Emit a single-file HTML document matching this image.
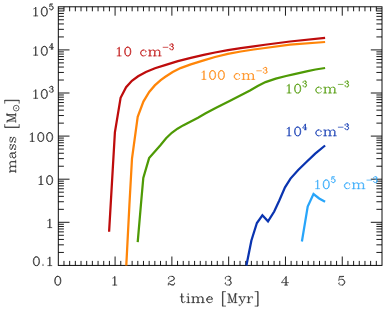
<!DOCTYPE html>
<html><head><meta charset="utf-8"><style>
html,body{margin:0;padding:0;background:#fff;font-family:"Liberation Sans",sans-serif;}
svg{display:block;}
</style></head><body>
<svg width="388" height="311" viewBox="0 0 388 311">
<rect width="388" height="311" fill="#fff"/>
<rect x="58.3" y="6.8" width="323.7" height="258.59999999999997" fill="none" stroke="#000" stroke-width="0.95"/>
<path d="M63.98 265.4v-4.5M63.98 6.8v4.5M69.66 265.4v-4.5M69.66 6.8v4.5M75.34 265.4v-4.5M75.34 6.8v4.5M81.02 265.4v-4.5M81.02 6.8v4.5M86.69 265.4v-4.5M86.69 6.8v4.5M92.37 265.4v-4.5M92.37 6.8v4.5M98.05 265.4v-4.5M98.05 6.8v4.5M103.73 265.4v-4.5M103.73 6.8v4.5M109.41 265.4v-4.5M109.41 6.8v4.5M115.09 265.4v-8.9M115.09 6.8v8.9M120.77 265.4v-4.5M120.77 6.8v4.5M126.45 265.4v-4.5M126.45 6.8v4.5M132.13 265.4v-4.5M132.13 6.8v4.5M137.81 265.4v-4.5M137.81 6.8v4.5M143.48 265.4v-4.5M143.48 6.8v4.5M149.16 265.4v-4.5M149.16 6.8v4.5M154.84 265.4v-4.5M154.84 6.8v4.5M160.52 265.4v-4.5M160.52 6.8v4.5M166.2 265.4v-4.5M166.2 6.8v4.5M171.88 265.4v-8.9M171.88 6.8v8.9M177.56 265.4v-4.5M177.56 6.8v4.5M183.24 265.4v-4.5M183.24 6.8v4.5M188.92 265.4v-4.5M188.92 6.8v4.5M194.59 265.4v-4.5M194.59 6.8v4.5M200.27 265.4v-4.5M200.27 6.8v4.5M205.95 265.4v-4.5M205.95 6.8v4.5M211.63 265.4v-4.5M211.63 6.8v4.5M217.31 265.4v-4.5M217.31 6.8v4.5M222.99 265.4v-4.5M222.99 6.8v4.5M228.67 265.4v-8.9M228.67 6.8v8.9M234.35 265.4v-4.5M234.35 6.8v4.5M240.03 265.4v-4.5M240.03 6.8v4.5M245.71 265.4v-4.5M245.71 6.8v4.5M251.38 265.4v-4.5M251.38 6.8v4.5M257.06 265.4v-4.5M257.06 6.8v4.5M262.74 265.4v-4.5M262.74 6.8v4.5M268.42 265.4v-4.5M268.42 6.8v4.5M274.1 265.4v-4.5M274.1 6.8v4.5M279.78 265.4v-4.5M279.78 6.8v4.5M285.46 265.4v-8.9M285.46 6.8v8.9M291.14 265.4v-4.5M291.14 6.8v4.5M296.82 265.4v-4.5M296.82 6.8v4.5M302.49 265.4v-4.5M302.49 6.8v4.5M308.17 265.4v-4.5M308.17 6.8v4.5M313.85 265.4v-4.5M313.85 6.8v4.5M319.53 265.4v-4.5M319.53 6.8v4.5M325.21 265.4v-4.5M325.21 6.8v4.5M330.89 265.4v-4.5M330.89 6.8v4.5M336.57 265.4v-4.5M336.57 6.8v4.5M342.25 265.4v-8.9M342.25 6.8v8.9M347.93 265.4v-4.5M347.93 6.8v4.5M353.61 265.4v-4.5M353.61 6.8v4.5M359.28 265.4v-4.5M359.28 6.8v4.5M364.96 265.4v-4.5M364.96 6.8v4.5M370.64 265.4v-4.5M370.64 6.8v4.5M376.32 265.4v-4.5M376.32 6.8v4.5M58.3 252.43h5.6M382.0 252.43h-5.6M58.3 244.84h5.6M382.0 244.84h-5.6M58.3 239.45h5.6M382.0 239.45h-5.6M58.3 235.27h5.6M382.0 235.27h-5.6M58.3 231.86h5.6M382.0 231.86h-5.6M58.3 228.98h5.6M382.0 228.98h-5.6M58.3 226.48h5.6M382.0 226.48h-5.6M58.3 224.27h5.6M382.0 224.27h-5.6M58.3 222.3h11.2M382.0 222.3h-11.2M58.3 209.33h5.6M382.0 209.33h-5.6M58.3 201.74h5.6M382.0 201.74h-5.6M58.3 196.35h5.6M382.0 196.35h-5.6M58.3 192.17h5.6M382.0 192.17h-5.6M58.3 188.76h5.6M382.0 188.76h-5.6M58.3 185.88h5.6M382.0 185.88h-5.6M58.3 183.38h5.6M382.0 183.38h-5.6M58.3 181.17h5.6M382.0 181.17h-5.6M58.3 179.2h11.2M382.0 179.2h-11.2M58.3 166.23h5.6M382.0 166.23h-5.6M58.3 158.64h5.6M382.0 158.64h-5.6M58.3 153.25h5.6M382.0 153.25h-5.6M58.3 149.07h5.6M382.0 149.07h-5.6M58.3 145.66h5.6M382.0 145.66h-5.6M58.3 142.78h5.6M382.0 142.78h-5.6M58.3 140.28h5.6M382.0 140.28h-5.6M58.3 138.07h5.6M382.0 138.07h-5.6M58.3 136.1h11.2M382.0 136.1h-11.2M58.3 123.13h5.6M382.0 123.13h-5.6M58.3 115.54h5.6M382.0 115.54h-5.6M58.3 110.15h5.6M382.0 110.15h-5.6M58.3 105.97h5.6M382.0 105.97h-5.6M58.3 102.56h5.6M382.0 102.56h-5.6M58.3 99.68h5.6M382.0 99.68h-5.6M58.3 97.18h5.6M382.0 97.18h-5.6M58.3 94.97h5.6M382.0 94.97h-5.6M58.3 93h11.2M382.0 93h-11.2M58.3 80.03h5.6M382.0 80.03h-5.6M58.3 72.44h5.6M382.0 72.44h-5.6M58.3 67.05h5.6M382.0 67.05h-5.6M58.3 62.87h5.6M382.0 62.87h-5.6M58.3 59.46h5.6M382.0 59.46h-5.6M58.3 56.58h5.6M382.0 56.58h-5.6M58.3 54.08h5.6M382.0 54.08h-5.6M58.3 51.87h5.6M382.0 51.87h-5.6M58.3 49.9h11.2M382.0 49.9h-11.2M58.3 36.93h5.6M382.0 36.93h-5.6M58.3 29.34h5.6M382.0 29.34h-5.6M58.3 23.95h5.6M382.0 23.95h-5.6M58.3 19.77h5.6M382.0 19.77h-5.6M58.3 16.36h5.6M382.0 16.36h-5.6M58.3 13.48h5.6M382.0 13.48h-5.6M58.3 10.98h5.6M382.0 10.98h-5.6M58.3 8.77h5.6M382.0 8.77h-5.6" fill="none" stroke="#000" stroke-width="0.9"/>
<path d="M109.1 231.7 L114.9 132.4 L120.6 97.8 L126.1 87.2 L131.9 80.8 L138.1 76.3 L145.9 72 L155 68.2 L165 65.1 L177.9 61.2 L190.8 57.8 L203.7 54.9 L215 52.5 L227.9 50.2 L240.8 48.2 L253.7 46.35 L265 44.75 L290 41.5 L325.1 37.8" fill="none" stroke="#be0c0c" stroke-width="2.25" stroke-linejoin="miter" stroke-linecap="butt"/>
<path d="M126.3 265.5 L129.4 205 L132.0 158.5 L137.7 116.8 L143.4 101.6 L149.2 91.9 L154.8 85.4 L160.7 80.2 L165 77.0 L172.7 72.1 L180.5 68.1 L190.8 64.4 L203.7 60.4 L215 57.0 L227.9 53.8 L240.8 51.5 L253.7 49.5 L265 48.0 L290 44.7 L325.1 42.0" fill="none" stroke="#ff8508" stroke-width="2.25" stroke-linejoin="miter" stroke-linecap="butt"/>
<path d="M137.7 242.1 L140.9 205 L143.3 177.9 L149.1 158.1 L160.4 145.2 L166.1 138.3 L171.8 132.8 L177.5 128.7 L183.1 125.4 L190.3 121.7 L198 117.8 L205.7 113.3 L216.6 107.4 L230.1 100.7 L243.7 93.7 L250 90.5 L257.7 86.0 L265.5 82.1 L275.8 78.65 L286.1 76.0 L293.3 74.4 L300 72.9 L307.7 71.1 L315.5 69.5 L325.1 68.0" fill="none" stroke="#4e9a05" stroke-width="2.25" stroke-linejoin="miter" stroke-linecap="butt"/>
<path d="M246.4 265.5 L251.4 240.5 L256.9 223 L262.4 215.3 L268.0 221.3 L274.2 211.5 L279.3 200.5 L285.0 187.4 L290.5 178.6 L298.2 170.0 L305.9 162.5 L315.2 153.7 L325.1 145.5" fill="none" stroke="#0a34b0" stroke-width="2.25" stroke-linejoin="miter" stroke-linecap="butt"/>
<path d="M301.9 241.5 L307.7 206.6 L313.5 194 L319.2 198.5 L325.1 201.8" fill="none" stroke="#28a5fa" stroke-width="2.25" stroke-linejoin="miter" stroke-linecap="butt"/>
<path d="M35.52 7.6L35.96 7.19L35.96 15.9L35.52 15.9L35.52 7.6L34.64 8.43L33.76 8.85M35.52 15.9L33.76 15.9M35.96 15.9L37.72 15.9M43.88 7.19L44.76 7.19L45.64 7.6L46.08 8.02L46.52 8.85L46.96 10.92L46.96 12.17L46.52 14.24L46.08 15.07L45.64 15.49L44.76 15.9L46.08 15.49L46.96 14.24L47.4 12.17L47.4 10.92L46.96 8.85L46.08 7.6L44.76 7.19M43.88 7.19L42.56 7.6L41.68 8.85L41.24 10.92L41.24 12.17L41.68 14.24L42.56 15.49L43.88 15.9L43 15.49L42.56 15.07L42.12 14.24L41.68 12.17L41.68 10.92L42.12 8.85L42.56 8.02L43 7.6L43.88 7.19M43.88 15.9L44.76 15.9M50.04 4.26L51.36 4.26L52.68 3.99L50.04 3.99L49.51 6.76L50.04 6.2L50.83 5.92L51.62 5.92L52.15 6.2L52.68 6.76L52.94 7.59L52.94 8.14L52.68 8.97L52.15 9.52L51.62 9.8L52.42 9.52L52.94 8.97L53.21 8.14L53.21 7.59L52.94 6.76L52.42 6.2L51.62 5.92M49.78 8.69L50.04 8.42L49.78 8.14L49.51 8.42L49.51 8.69L49.78 9.25L50.04 9.52L50.83 9.8L51.62 9.8" fill="none" stroke="#222" stroke-width="0.7" stroke-linecap="round" stroke-linejoin="round"/>
<path d="M35.52 46.9L35.96 46.48L35.96 55.2L35.52 55.2L35.52 46.9L34.64 47.73L33.76 48.15M35.52 55.2L33.76 55.2M35.96 55.2L37.72 55.2M43.88 46.48L44.76 46.48L45.64 46.9L46.08 47.32L46.52 48.15L46.96 50.22L46.96 51.47L46.52 53.54L46.08 54.37L45.64 54.79L44.76 55.2L46.08 54.79L46.96 53.54L47.4 51.47L47.4 50.22L46.96 48.15L46.08 46.9L44.76 46.48M43.88 46.48L42.56 46.9L41.68 48.15L41.24 50.22L41.24 51.47L41.68 53.54L42.56 54.79L43.88 55.2L43 54.79L42.56 54.37L42.12 53.54L41.68 51.47L41.68 50.22L42.12 48.15L42.56 47.32L43 46.9L43.88 46.48M43.88 55.2L44.76 55.2M51.89 43.84L51.89 47.44L49.25 47.44L52.15 43.29L52.15 47.44L51.89 47.44L51.89 49.1L51.1 49.1M53.47 47.44L52.15 47.44L52.15 49.1L51.89 49.1M52.15 49.1L52.94 49.1" fill="none" stroke="#222" stroke-width="0.7" stroke-linecap="round" stroke-linejoin="round"/>
<path d="M35.52 90L35.96 89.58L35.96 98.3L35.52 98.3L35.52 90L34.64 90.83L33.76 91.25M35.52 98.3L33.76 98.3M35.96 98.3L37.72 98.3M43.88 89.58L44.76 89.58L45.64 90L46.08 90.41L46.52 91.25L46.96 93.32L46.96 94.56L46.52 96.64L46.08 97.47L45.64 97.88L44.76 98.3L46.08 97.88L46.96 96.64L47.4 94.56L47.4 93.32L46.96 91.25L46.08 90L44.76 89.58M43.88 89.58L42.56 90L41.68 91.25L41.24 93.32L41.24 94.56L41.68 96.64L42.56 97.88L43.88 98.3L43 97.88L42.56 97.47L42.12 96.64L41.68 94.56L41.68 93.32L42.12 91.25L42.56 90.41L43 90L43.88 89.58M43.88 98.3L44.76 98.3M51.89 86.39L50.83 86.39L50.04 86.66L49.78 86.94L49.51 87.49L49.51 87.77L49.78 88.05L50.04 87.77L49.78 87.49M51.89 86.39L52.42 86.66L52.68 87.22L52.68 88.05L52.42 88.6L51.89 88.88L52.68 88.6L52.94 88.05L52.94 87.22L52.68 86.66L51.89 86.39M51.1 88.88L51.89 88.88L52.42 89.16L52.94 89.71L53.21 90.26L53.21 91.09L52.94 91.65L52.68 91.92L51.89 92.2L52.42 91.92L52.68 91.65L52.94 91.09L52.94 90.26L52.68 89.43M49.78 91.09L50.04 90.82L49.78 90.54L49.51 90.82L49.51 91.09L49.78 91.65L50.04 91.92L50.83 92.2L51.89 92.2" fill="none" stroke="#222" stroke-width="0.7" stroke-linecap="round" stroke-linejoin="round"/>
<path d="M32 133.1L32.44 132.69L32.44 141.4L32 141.4L32 133.1L31.12 133.93L30.24 134.34M32 141.4L30.24 141.4M32.44 141.4L34.2 141.4M40.36 132.69L41.24 132.69L42.12 133.1L42.56 133.52L43 134.34L43.44 136.42L43.44 137.66L43 139.74L42.56 140.57L42.12 140.99L41.24 141.4L42.56 140.99L43.44 139.74L43.88 137.66L43.88 136.42L43.44 134.34L42.56 133.1L41.24 132.69M40.36 132.69L39.04 133.1L38.16 134.34L37.72 136.42L37.72 137.66L38.16 139.74L39.04 140.99L40.36 141.4L39.48 140.99L39.04 140.57L38.6 139.74L38.16 137.66L38.16 136.42L38.6 134.34L39.04 133.52L39.48 133.1L40.36 132.69M40.36 141.4L41.24 141.4M49.16 132.69L50.04 132.69L50.92 133.1L51.36 133.52L51.8 134.34L52.24 136.42L52.24 137.66L51.8 139.74L51.36 140.57L50.92 140.99L50.04 141.4L51.36 140.99L52.24 139.74L52.68 137.66L52.68 136.42L52.24 134.34L51.36 133.1L50.04 132.69M49.16 132.69L47.84 133.1L46.96 134.34L46.52 136.42L46.52 137.66L46.96 139.74L47.84 140.99L49.16 141.4L48.28 140.99L47.84 140.57L47.4 139.74L46.96 137.66L46.96 136.42L47.4 134.34L47.84 133.52L48.28 133.1L49.16 132.69M49.16 141.4L50.04 141.4" fill="none" stroke="#222" stroke-width="0.7" stroke-linecap="round" stroke-linejoin="round"/>
<path d="M40.8 176.2L41.24 175.78L41.24 184.5L40.8 184.5L40.8 176.2L39.92 177.03L39.04 177.44M40.8 184.5L39.04 184.5M41.24 184.5L43 184.5M49.16 175.78L50.04 175.78L50.92 176.2L51.36 176.62L51.8 177.44L52.24 179.52L52.24 180.76L51.8 182.84L51.36 183.67L50.92 184.09L50.04 184.5L51.36 184.09L52.24 182.84L52.68 180.76L52.68 179.52L52.24 177.44L51.36 176.2L50.04 175.78M49.16 175.78L47.84 176.2L46.96 177.44L46.52 179.52L46.52 180.76L46.96 182.84L47.84 184.09L49.16 184.5L48.28 184.09L47.84 183.67L47.4 182.84L46.96 180.76L46.96 179.52L47.4 177.44L47.84 176.62L48.28 176.2L49.16 175.78M49.16 184.5L50.04 184.5" fill="none" stroke="#222" stroke-width="0.7" stroke-linecap="round" stroke-linejoin="round"/>
<path d="M49.6 219.3L50.04 218.88L50.04 227.6L49.6 227.6L49.6 219.3L48.72 220.13L47.84 220.54M49.6 227.6L47.84 227.6M50.04 227.6L51.8 227.6" fill="none" stroke="#222" stroke-width="0.7" stroke-linecap="round" stroke-linejoin="round"/>
<path d="M35.96 256.89L36.84 256.89L37.72 257.3L38.16 257.72L38.6 258.55L39.04 260.62L39.04 261.87L38.6 263.94L38.16 264.77L37.72 265.19L36.84 265.6L38.16 265.19L39.04 263.94L39.48 261.87L39.48 260.62L39.04 258.55L38.16 257.3L36.84 256.89M35.96 256.89L34.64 257.3L33.76 258.55L33.32 260.62L33.32 261.87L33.76 263.94L34.64 265.19L35.96 265.6L35.08 265.19L34.64 264.77L34.2 263.94L33.76 261.87L33.76 260.62L34.2 258.55L34.64 257.72L35.08 257.3L35.96 256.89M35.96 265.6L36.84 265.6M43 264.77L42.56 265.19L43 265.6L43.44 265.19L43 264.77M49.6 257.3L50.04 256.89L50.04 265.6L49.6 265.6L49.6 257.3L48.72 258.13L47.84 258.55M49.6 265.6L47.84 265.6M50.04 265.6L51.8 265.6" fill="none" stroke="#222" stroke-width="0.7" stroke-linecap="round" stroke-linejoin="round"/>
<path d="M57.36 276.39L58.24 276.39L59.12 276.8L59.56 277.22L60 278.05L60.44 280.12L60.44 281.37L60 283.44L59.56 284.27L59.12 284.69L58.24 285.1L59.56 284.69L60.44 283.44L60.88 281.37L60.88 280.12L60.44 278.05L59.56 276.8L58.24 276.39M57.36 276.39L56.04 276.8L55.16 278.05L54.72 280.12L54.72 281.37L55.16 283.44L56.04 284.69L57.36 285.1L56.48 284.69L56.04 284.27L55.6 283.44L55.16 281.37L55.16 280.12L55.6 278.05L56.04 277.22L56.48 276.8L57.36 276.39M57.36 285.1L58.24 285.1" fill="none" stroke="#222" stroke-width="0.7" stroke-linecap="round" stroke-linejoin="round"/>
<path d="M114.59 276.8L115.03 276.39L115.03 285.1L114.59 285.1L114.59 276.8L113.71 277.63L112.83 278.05M114.59 285.1L112.83 285.1M115.03 285.1L116.79 285.1" fill="none" stroke="#222" stroke-width="0.7" stroke-linecap="round" stroke-linejoin="round"/>
<path d="M172.26 276.39L170.5 276.39L169.18 276.8L168.74 277.22L168.3 278.05L168.3 278.46L168.74 278.88L169.18 278.46L168.74 278.05M172.26 276.39L173.14 276.8L173.58 277.22L174.02 278.05L174.02 278.88L173.58 279.71L172.26 280.54L170.5 281.37L172.7 280.54L174.02 279.71L174.46 278.88L174.46 278.05L174.02 277.22L173.58 276.8L172.26 276.39M170.5 281.37L169.62 281.78L168.74 282.61L168.3 283.86L168.3 284.27L168.74 283.86L169.62 283.86L171.82 284.69L173.14 284.69L174.02 284.27L174.46 283.86L174.46 283.03M174.46 283.86L174.02 284.69L173.58 285.1L171.82 285.1L169.62 283.86M168.3 284.27L168.3 285.1" fill="none" stroke="#222" stroke-width="0.7" stroke-linecap="round" stroke-linejoin="round"/>
<path d="M229.05 276.39L227.29 276.39L225.97 276.8L225.53 277.22L225.09 278.05L225.09 278.46L225.53 278.88L225.97 278.46L225.53 278.05M229.05 276.39L229.93 276.8L230.37 277.63L230.37 278.88L229.93 279.71L229.05 280.12L230.37 279.71L230.81 278.88L230.81 277.63L230.37 276.8L229.05 276.39M227.73 280.12L229.05 280.12L229.93 280.54L230.81 281.37L231.25 282.2L231.25 283.44L230.81 284.27L230.37 284.69L229.05 285.1L229.93 284.69L230.37 284.27L230.81 283.44L230.81 282.2L230.37 280.95M225.53 283.44L225.97 283.03L225.53 282.61L225.09 283.03L225.09 283.44L225.53 284.27L225.97 284.69L227.29 285.1L229.05 285.1" fill="none" stroke="#222" stroke-width="0.7" stroke-linecap="round" stroke-linejoin="round"/>
<path d="M285.84 277.22L285.84 282.61L281.44 282.61L286.28 276.39L286.28 282.61L285.84 282.61L285.84 285.1L284.52 285.1M288.48 282.61L286.28 282.61L286.28 285.1L285.84 285.1M286.28 285.1L287.6 285.1" fill="none" stroke="#222" stroke-width="0.7" stroke-linecap="round" stroke-linejoin="round"/>
<path d="M339.55 276.8L341.75 276.8L343.95 276.39L339.55 276.39L338.67 280.54L339.55 279.71L340.87 279.29L342.19 279.29L343.07 279.71L343.95 280.54L344.39 281.78L344.39 282.61L343.95 283.86L343.07 284.69L342.19 285.1L343.51 284.69L344.39 283.86L344.83 282.61L344.83 281.78L344.39 280.54L343.51 279.71L342.19 279.29M339.11 283.44L339.55 283.03L339.11 282.61L338.67 283.03L338.67 283.44L339.11 284.27L339.55 284.69L340.87 285.1L342.19 285.1" fill="none" stroke="#222" stroke-width="0.7" stroke-linecap="round" stroke-linejoin="round"/>
<path d="M181.54 293.89L181.54 296.79L180.22 296.79M181.98 293.89L181.98 296.79L181.54 296.79L181.54 300.94L181.98 302.19L182.86 302.6L182.42 302.19L181.98 300.94L181.98 296.79L183.74 296.79M185.06 301.36L184.62 302.19L183.74 302.6L182.86 302.6M186.82 296.79L188.58 296.79L188.58 302.6L188.14 302.6L188.14 296.79M188.14 302.6L186.82 302.6M188.58 302.6L189.9 302.6M188.14 293.89L187.7 294.3L188.14 294.72L188.58 294.3L188.14 293.89M191.66 296.79L193.42 296.79L193.42 298.04L194.3 297.21L195.62 296.79L196.5 296.79L197.38 297.21L197.82 298.04L197.82 302.6L196.5 302.6M192.98 296.79L192.98 302.6L191.66 302.6M196.5 296.79L197.82 297.21L198.26 298.04L199.14 297.21L200.46 296.79L201.34 296.79L202.22 297.21L202.66 298.04L202.66 302.6L201.34 302.6M201.34 296.79L202.66 297.21L203.1 298.04L203.1 302.6L202.66 302.6M198.26 298.04L198.26 302.6L197.82 302.6M193.42 298.04L193.42 302.6L192.98 302.6M193.42 302.6L194.74 302.6M198.26 302.6L199.58 302.6M203.1 302.6L204.42 302.6M209.26 296.79L210.58 296.79L211.46 297.21L211.9 297.62L212.34 298.45L212.34 299.28L211.9 299.28L211.9 298.04L211.46 297.21M209.26 296.79L207.94 297.21L207.06 298.04L206.62 299.28L206.62 300.11L207.06 301.36L207.94 302.19L209.26 302.6L208.38 302.19L207.5 301.36L207.06 300.11L207.06 299.28L207.5 298.04L208.38 297.21L209.26 296.79M207.06 299.28L211.9 299.28M212.34 301.36L211.46 302.19L210.14 302.6L209.26 302.6M222.9 291.63L222.46 291.63L222.46 306.1L222.9 306.1L222.9 291.63L225.54 291.63M222.9 306.1L225.54 306.1M227.74 293.89L229.5 293.89L232.14 301.36M235.22 293.89L236.98 293.89M235.22 293.89L235.22 302.6L233.9 302.6M235.22 293.89L232.14 302.6L229.06 293.89L229.06 302.6L227.74 302.6M235.66 293.89L235.66 302.6L235.22 302.6M229.06 302.6L230.38 302.6M235.66 302.6L236.98 302.6M238.74 296.79L241.38 296.79M239.62 296.79L242.26 302.6L244.9 296.79L243.14 296.79M240.06 296.79L242.26 301.77M244.9 296.79L245.78 296.79M242.26 302.6L241.38 304.26L240.5 305.09L239.62 305.5L239.18 305.5L238.74 305.09L239.18 304.68L239.62 305.09M247.1 296.79L248.86 296.79L248.86 299.28L249.3 298.04L250.18 297.21L251.06 296.79L252.38 296.79L252.82 297.21L252.82 297.62L252.38 298.04L251.94 297.62L252.38 297.21M248.42 296.79L248.42 302.6L247.1 302.6M248.86 299.28L248.86 302.6L248.42 302.6M248.86 302.6L250.18 302.6M255.02 291.63L258.1 291.63L258.1 306.1L257.66 306.1L257.66 291.63M257.66 306.1L255.02 306.1" fill="none" stroke="#222" stroke-width="0.7" stroke-linecap="round" stroke-linejoin="round"/>
<g transform="translate(15.7,173.5) rotate(-90)"><path d="M0.86 -5.81L2.58 -5.81L2.58 -4.56L3.44 -5.39L4.73 -5.81L5.59 -5.81L6.45 -5.39L6.88 -4.56L6.88 0L5.59 0M2.15 -5.81L2.15 0L0.86 0M5.59 -5.81L6.88 -5.39L7.31 -4.56L8.17 -5.39L9.46 -5.81L10.32 -5.81L11.18 -5.39L11.61 -4.56L11.61 0L10.32 0M10.32 -5.81L11.61 -5.39L12.04 -4.56L12.04 0L11.61 0M7.31 -4.56L7.31 0L6.88 0M2.58 -4.56L2.58 0L2.15 0M2.58 0L3.87 0M7.31 0L8.6 0M12.04 0L13.33 0M20.21 -4.98L19.78 -5.39L18.92 -5.81L17.2 -5.81L16.34 -5.39L15.91 -4.98L15.91 -4.56L16.34 -4.56L16.34 -4.98M20.21 -4.98L20.21 -4.15L19.78 -3.73L17.2 -3.32L15.91 -2.9L15.48 -2.07L15.48 -1.24L15.91 -0.41L17.2 0L16.34 -0.41L15.91 -1.24L15.91 -2.07L16.34 -2.9L17.2 -3.32M20.21 -4.98L20.64 -4.15L20.64 -1.24L21.07 -0.41L21.5 0L20.64 -0.41L20.21 -1.24L20.21 -4.15M20.21 -1.24L19.35 -0.41L18.49 0L17.2 0M21.5 0L21.93 0M28.38 -4.98L28.81 -5.81L28.81 -4.15L28.38 -4.98L27.95 -5.39L27.09 -5.81L25.37 -5.81L24.51 -5.39L24.08 -4.98L24.08 -4.15L24.51 -3.73L25.37 -3.32L27.52 -2.49L28.38 -2.07L28.81 -1.66L28.81 -2.07L28.38 -2.49L27.52 -2.9L25.37 -3.73L24.51 -4.15L24.08 -4.56M28.81 -1.66L28.81 -0.83L28.38 -0.41L27.52 0L25.8 0L24.94 -0.41L24.51 -0.83L24.08 -1.66L24.08 0L24.51 -0.83M35.69 -4.98L36.12 -5.81L36.12 -4.15L35.69 -4.98L35.26 -5.39L34.4 -5.81L32.68 -5.81L31.82 -5.39L31.39 -4.98L31.39 -4.15L31.82 -3.73L32.68 -3.32L34.83 -2.49L35.69 -2.07L36.12 -1.66L36.12 -2.07L35.69 -2.49L34.83 -2.9L32.68 -3.73L31.82 -4.15L31.39 -4.56M36.12 -1.66L36.12 -0.83L35.69 -0.41L34.83 0L33.11 0L32.25 -0.41L31.82 -0.83L31.39 -1.66L31.39 0L31.82 -0.83M46.44 -10.97L46.01 -10.97L46.01 3.5L46.44 3.5L46.44 -10.97L49.02 -10.97M46.44 3.5L49.02 3.5M51.17 -8.71L52.89 -8.71L55.47 -1.24M58.48 -8.71L60.2 -8.71M58.48 -8.71L58.48 0L57.19 0M58.48 -8.71L55.47 0L52.46 -8.71L52.46 0L51.17 0M58.91 -8.71L58.91 0L58.48 0M52.46 0L53.75 0M58.91 0L60.2 0M70.25 -10.97L73.26 -10.97L73.26 3.5L72.83 3.5L72.83 -10.97M72.83 3.5L70.25 3.5" fill="none" stroke="#222" stroke-width="0.7" stroke-linecap="round" stroke-linejoin="round"/><circle cx="65.36" cy="0.5" r="2.85" fill="none" stroke="#222" stroke-width="0.7"/><circle cx="65.36" cy="0.5" r="0.6" fill="#222"/></g>
<path d="M118.96 47.6L119.4 47.19L119.4 55.9L118.96 55.9L118.96 47.6L118.08 48.43L117.2 48.84M118.96 55.9L117.2 55.9M119.4 55.9L121.16 55.9M127.32 47.19L128.2 47.19L129.08 47.6L129.52 48.02L129.96 48.84L130.4 50.92L130.4 52.16L129.96 54.24L129.52 55.07L129.08 55.48L128.2 55.9L129.52 55.48L130.4 54.24L130.84 52.16L130.84 50.92L130.4 48.84L129.52 47.6L128.2 47.19M127.32 47.19L126 47.6L125.12 48.84L124.68 50.92L124.68 52.16L125.12 54.24L126 55.48L127.32 55.9L126.44 55.48L126 55.07L125.56 54.24L125.12 52.16L125.12 50.92L125.56 48.84L126 48.02L126.44 47.6L127.32 47.19M127.32 55.9L128.2 55.9M143.16 50.09L144.48 50.09L145.36 50.5L146.24 51.34L146.24 51.75L145.8 52.16L145.36 51.75L145.8 51.34M143.16 50.09L141.84 50.5L140.96 51.34L140.52 52.58L140.52 53.41L140.96 54.66L141.84 55.48L143.16 55.9L142.28 55.48L141.4 54.66L140.96 53.41L140.96 52.58L141.4 51.34L142.28 50.5L143.16 50.09M146.24 54.66L145.36 55.48L144.04 55.9L143.16 55.9M148.44 50.09L150.2 50.09L150.2 51.34L151.08 50.5L152.4 50.09L153.28 50.09L154.16 50.5L154.6 51.34L154.6 55.9L153.28 55.9M149.76 50.09L149.76 55.9L148.44 55.9M153.28 50.09L154.6 50.5L155.04 51.34L155.92 50.5L157.24 50.09L158.12 50.09L159 50.5L159.44 51.34L159.44 55.9L158.12 55.9M158.12 50.09L159.44 50.5L159.88 51.34L159.88 55.9L159.44 55.9M155.04 51.34L155.04 55.9L154.6 55.9M150.2 51.34L150.2 55.9L149.76 55.9M150.2 55.9L151.52 55.9M155.04 55.9L156.36 55.9M159.88 55.9L161.2 55.9M163.14 47.31L167.89 47.31M172.11 43.99L171.06 43.99L170.26 44.26L170 44.54L169.74 45.09L169.74 45.37L170 45.65L170.26 45.37L170 45.09M172.11 43.99L172.64 44.26L172.9 44.82L172.9 45.65L172.64 46.2L172.11 46.48L172.9 46.2L173.17 45.65L173.17 44.82L172.9 44.26L172.11 43.99M171.32 46.48L172.11 46.48L172.64 46.76L173.17 47.31L173.43 47.86L173.43 48.69L173.17 49.25L172.9 49.52L172.11 49.8L172.64 49.52L172.9 49.25L173.17 48.69L173.17 47.86L172.9 47.03M170 48.69L170.26 48.42L170 48.14L169.74 48.42L169.74 48.69L170 49.25L170.26 49.52L171.06 49.8L172.11 49.8" fill="none" stroke="#be0c0c" stroke-width="0.7" stroke-linecap="round" stroke-linejoin="round"/>
<path d="M203.76 71.1L204.2 70.69L204.2 79.4L203.76 79.4L203.76 71.1L202.88 71.93L202 72.34M203.76 79.4L202 79.4M204.2 79.4L205.96 79.4M212.12 70.69L213 70.69L213.88 71.1L214.32 71.52L214.76 72.34L215.2 74.42L215.2 75.67L214.76 77.74L214.32 78.57L213.88 78.98L213 79.4L214.32 78.98L215.2 77.74L215.64 75.67L215.64 74.42L215.2 72.34L214.32 71.1L213 70.69M212.12 70.69L210.8 71.1L209.92 72.34L209.48 74.42L209.48 75.67L209.92 77.74L210.8 78.98L212.12 79.4L211.24 78.98L210.8 78.57L210.36 77.74L209.92 75.67L209.92 74.42L210.36 72.34L210.8 71.52L211.24 71.1L212.12 70.69M212.12 79.4L213 79.4M220.92 70.69L221.8 70.69L222.68 71.1L223.12 71.52L223.56 72.34L224 74.42L224 75.67L223.56 77.74L223.12 78.57L222.68 78.98L221.8 79.4L223.12 78.98L224 77.74L224.44 75.67L224.44 74.42L224 72.34L223.12 71.1L221.8 70.69M220.92 70.69L219.6 71.1L218.72 72.34L218.28 74.42L218.28 75.67L218.72 77.74L219.6 78.98L220.92 79.4L220.04 78.98L219.6 78.57L219.16 77.74L218.72 75.67L218.72 74.42L219.16 72.34L219.6 71.52L220.04 71.1L220.92 70.69M220.92 79.4L221.8 79.4M236.76 73.59L238.08 73.59L238.96 74.01L239.84 74.84L239.84 75.25L239.4 75.67L238.96 75.25L239.4 74.84M236.76 73.59L235.44 74.01L234.56 74.84L234.12 76.08L234.12 76.91L234.56 78.16L235.44 78.98L236.76 79.4L235.88 78.98L235 78.16L234.56 76.91L234.56 76.08L235 74.84L235.88 74.01L236.76 73.59M239.84 78.16L238.96 78.98L237.64 79.4L236.76 79.4M242.04 73.59L243.8 73.59L243.8 74.84L244.68 74.01L246 73.59L246.88 73.59L247.76 74.01L248.2 74.84L248.2 79.4L246.88 79.4M243.36 73.59L243.36 79.4L242.04 79.4M246.88 73.59L248.2 74.01L248.64 74.84L249.52 74.01L250.84 73.59L251.72 73.59L252.6 74.01L253.04 74.84L253.04 79.4L251.72 79.4M251.72 73.59L253.04 74.01L253.48 74.84L253.48 79.4L253.04 79.4M248.64 74.84L248.64 79.4L248.2 79.4M243.8 74.84L243.8 79.4L243.36 79.4M243.8 79.4L245.12 79.4M248.64 79.4L249.96 79.4M253.48 79.4L254.8 79.4M256.74 70.81L261.49 70.81M265.71 67.49L264.66 67.49L263.86 67.76L263.6 68.04L263.34 68.59L263.34 68.87L263.6 69.15L263.86 68.87L263.6 68.59M265.71 67.49L266.24 67.76L266.5 68.32L266.5 69.15L266.24 69.7L265.71 69.98L266.5 69.7L266.77 69.15L266.77 68.32L266.5 67.76L265.71 67.49M264.92 69.98L265.71 69.98L266.24 70.26L266.77 70.81L267.03 71.36L267.03 72.19L266.77 72.75L266.5 73.02L265.71 73.3L266.24 73.02L266.5 72.75L266.77 72.19L266.77 71.36L266.5 70.53M263.6 72.19L263.86 71.92L263.6 71.64L263.34 71.92L263.34 72.19L263.6 72.75L263.86 73.02L264.66 73.3L265.71 73.3" fill="none" stroke="#ff8508" stroke-width="0.7" stroke-linecap="round" stroke-linejoin="round"/>
<path d="M288.86 84.7L289.3 84.28L289.3 93L288.86 93L288.86 84.7L287.98 85.53L287.1 85.94M288.86 93L287.1 93M289.3 93L291.06 93M297.22 84.28L298.1 84.28L298.98 84.7L299.42 85.11L299.86 85.94L300.3 88.02L300.3 89.27L299.86 91.34L299.42 92.17L298.98 92.58L298.1 93L299.42 92.58L300.3 91.34L300.74 89.27L300.74 88.02L300.3 85.94L299.42 84.7L298.1 84.28M297.22 84.28L295.9 84.7L295.02 85.94L294.58 88.02L294.58 89.27L295.02 91.34L295.9 92.58L297.22 93L296.34 92.58L295.9 92.17L295.46 91.34L295.02 89.27L295.02 88.02L295.46 85.94L295.9 85.11L296.34 84.7L297.22 84.28M297.22 93L298.1 93M305.23 81.09L304.17 81.09L303.38 81.36L303.12 81.64L302.85 82.19L302.85 82.47L303.12 82.75L303.38 82.47L303.12 82.19M305.23 81.09L305.76 81.36L306.02 81.92L306.02 82.75L305.76 83.3L305.23 83.58L306.02 83.3L306.28 82.75L306.28 81.92L306.02 81.36L305.23 81.09M304.44 83.58L305.23 83.58L305.76 83.86L306.28 84.41L306.55 84.96L306.55 85.79L306.28 86.35L306.02 86.62L305.23 86.9L305.76 86.62L306.02 86.35L306.28 85.79L306.28 84.96L306.02 84.13M303.12 85.79L303.38 85.52L303.12 85.24L302.85 85.52L302.85 85.79L303.12 86.35L303.38 86.62L304.17 86.9L305.23 86.9M318.34 87.19L319.66 87.19L320.54 87.61L321.42 88.44L321.42 88.85L320.98 89.27L320.54 88.85L320.98 88.44M318.34 87.19L317.02 87.61L316.14 88.44L315.7 89.68L315.7 90.51L316.14 91.75L317.02 92.58L318.34 93L317.46 92.58L316.58 91.75L316.14 90.51L316.14 89.68L316.58 88.44L317.46 87.61L318.34 87.19M321.42 91.75L320.54 92.58L319.22 93L318.34 93M323.62 87.19L325.38 87.19L325.38 88.44L326.26 87.61L327.58 87.19L328.46 87.19L329.34 87.61L329.78 88.44L329.78 93L328.46 93M324.94 87.19L324.94 93L323.62 93M328.46 87.19L329.78 87.61L330.22 88.44L331.1 87.61L332.42 87.19L333.3 87.19L334.18 87.61L334.62 88.44L334.62 93L333.3 93M333.3 87.19L334.62 87.61L335.06 88.44L335.06 93L334.62 93M330.22 88.44L330.22 93L329.78 93M325.38 88.44L325.38 93L324.94 93M325.38 93L326.7 93M330.22 93L331.54 93M335.06 93L336.38 93M338.32 84.41L343.07 84.41M347.29 81.09L346.24 81.09L345.44 81.36L345.18 81.64L344.92 82.19L344.92 82.47L345.18 82.75L345.44 82.47L345.18 82.19M347.29 81.09L347.82 81.36L348.08 81.92L348.08 82.75L347.82 83.3L347.29 83.58L348.08 83.3L348.35 82.75L348.35 81.92L348.08 81.36L347.29 81.09M346.5 83.58L347.29 83.58L347.82 83.86L348.35 84.41L348.61 84.96L348.61 85.79L348.35 86.35L348.08 86.62L347.29 86.9L347.82 86.62L348.08 86.35L348.35 85.79L348.35 84.96L348.08 84.13M345.18 85.79L345.44 85.52L345.18 85.24L344.92 85.52L344.92 85.79L345.18 86.35L345.44 86.62L346.24 86.9L347.29 86.9" fill="none" stroke="#4e9a05" stroke-width="0.7" stroke-linecap="round" stroke-linejoin="round"/>
<path d="M288.86 127.5L289.3 127.09L289.3 135.8L288.86 135.8L288.86 127.5L287.98 128.33L287.1 128.75M288.86 135.8L287.1 135.8M289.3 135.8L291.06 135.8M297.22 127.09L298.1 127.09L298.98 127.5L299.42 127.92L299.86 128.75L300.3 130.82L300.3 132.06L299.86 134.14L299.42 134.97L298.98 135.39L298.1 135.8L299.42 135.39L300.3 134.14L300.74 132.06L300.74 130.82L300.3 128.75L299.42 127.5L298.1 127.09M297.22 127.09L295.9 127.5L295.02 128.75L294.58 130.82L294.58 132.06L295.02 134.14L295.9 135.39L297.22 135.8L296.34 135.39L295.9 134.97L295.46 134.14L295.02 132.06L295.02 130.82L295.46 128.75L295.9 127.92L296.34 127.5L297.22 127.09M297.22 135.8L298.1 135.8M305.23 124.44L305.23 128.04L302.59 128.04L305.49 123.89L305.49 128.04L305.23 128.04L305.23 129.7L304.44 129.7M306.81 128.04L305.49 128.04L305.49 129.7L305.23 129.7M305.49 129.7L306.28 129.7M318.34 129.99L319.66 129.99L320.54 130.41L321.42 131.24L321.42 131.65L320.98 132.06L320.54 131.65L320.98 131.24M318.34 129.99L317.02 130.41L316.14 131.24L315.7 132.48L315.7 133.31L316.14 134.56L317.02 135.39L318.34 135.8L317.46 135.39L316.58 134.56L316.14 133.31L316.14 132.48L316.58 131.24L317.46 130.41L318.34 129.99M321.42 134.56L320.54 135.39L319.22 135.8L318.34 135.8M323.62 129.99L325.38 129.99L325.38 131.24L326.26 130.41L327.58 129.99L328.46 129.99L329.34 130.41L329.78 131.24L329.78 135.8L328.46 135.8M324.94 129.99L324.94 135.8L323.62 135.8M328.46 129.99L329.78 130.41L330.22 131.24L331.1 130.41L332.42 129.99L333.3 129.99L334.18 130.41L334.62 131.24L334.62 135.8L333.3 135.8M333.3 129.99L334.62 130.41L335.06 131.24L335.06 135.8L334.62 135.8M330.22 131.24L330.22 135.8L329.78 135.8M325.38 131.24L325.38 135.8L324.94 135.8M325.38 135.8L326.7 135.8M330.22 135.8L331.54 135.8M335.06 135.8L336.38 135.8M338.32 127.21L343.07 127.21M347.29 123.89L346.24 123.89L345.44 124.16L345.18 124.44L344.92 124.99L344.92 125.27L345.18 125.55L345.44 125.27L345.18 124.99M347.29 123.89L347.82 124.16L348.08 124.72L348.08 125.55L347.82 126.1L347.29 126.38L348.08 126.1L348.35 125.55L348.35 124.72L348.08 124.16L347.29 123.89M346.5 126.38L347.29 126.38L347.82 126.66L348.35 127.21L348.61 127.76L348.61 128.59L348.35 129.15L348.08 129.42L347.29 129.7L347.82 129.42L348.08 129.15L348.35 128.59L348.35 127.76L348.08 126.93M345.18 128.59L345.44 128.32L345.18 128.04L344.92 128.32L344.92 128.59L345.18 129.15L345.44 129.42L346.24 129.7L347.29 129.7" fill="none" stroke="#0a34b0" stroke-width="0.7" stroke-linecap="round" stroke-linejoin="round"/>
<path d="M317.46 180.4L317.9 179.98L317.9 188.7L317.46 188.7L317.46 180.4L316.58 181.23L315.7 181.64M317.46 188.7L315.7 188.7M317.9 188.7L319.66 188.7M325.82 179.98L326.7 179.98L327.58 180.4L328.02 180.81L328.46 181.64L328.9 183.72L328.9 184.96L328.46 187.04L328.02 187.87L327.58 188.28L326.7 188.7L328.02 188.28L328.9 187.04L329.34 184.96L329.34 183.72L328.9 181.64L328.02 180.4L326.7 179.98M325.82 179.98L324.5 180.4L323.62 181.64L323.18 183.72L323.18 184.96L323.62 187.04L324.5 188.28L325.82 188.7L324.94 188.28L324.5 187.87L324.06 187.04L323.62 184.96L323.62 183.72L324.06 181.64L324.5 180.81L324.94 180.4L325.82 179.98M325.82 188.7L326.7 188.7M331.98 177.06L333.3 177.06L334.62 176.79L331.98 176.79L331.45 179.56L331.98 179L332.77 178.72L333.56 178.72L334.09 179L334.62 179.56L334.88 180.39L334.88 180.94L334.62 181.77L334.09 182.32L333.56 182.6L334.36 182.32L334.88 181.77L335.15 180.94L335.15 180.39L334.88 179.56L334.36 179L333.56 178.72M331.72 181.49L331.98 181.22L331.72 180.94L331.45 181.22L331.45 181.49L331.72 182.05L331.98 182.32L332.77 182.6L333.56 182.6M346.94 182.89L348.26 182.89L349.14 183.3L350.02 184.13L350.02 184.55L349.58 184.96L349.14 184.55L349.58 184.13M346.94 182.89L345.62 183.3L344.74 184.13L344.3 185.38L344.3 186.21L344.74 187.45L345.62 188.28L346.94 188.7L346.06 188.28L345.18 187.45L344.74 186.21L344.74 185.38L345.18 184.13L346.06 183.3L346.94 182.89M350.02 187.45L349.14 188.28L347.82 188.7L346.94 188.7M352.22 182.89L353.98 182.89L353.98 184.13L354.86 183.3L356.18 182.89L357.06 182.89L357.94 183.3L358.38 184.13L358.38 188.7L357.06 188.7M353.54 182.89L353.54 188.7L352.22 188.7M357.06 182.89L358.38 183.3L358.82 184.13L359.7 183.3L361.02 182.89L361.9 182.89L362.78 183.3L363.22 184.13L363.22 188.7L361.9 188.7M361.9 182.89L363.22 183.3L363.66 184.13L363.66 188.7L363.22 188.7M358.82 184.13L358.82 188.7L358.38 188.7M353.98 184.13L353.98 188.7L353.54 188.7M353.98 188.7L355.3 188.7M358.82 188.7L360.14 188.7M363.66 188.7L364.98 188.7M366.92 180.11L371.67 180.11M375.89 176.79L374.84 176.79L374.04 177.06L373.78 177.34L373.52 177.89L373.52 178.17L373.78 178.45L374.04 178.17L373.78 177.89M375.89 176.79L376.42 177.06L376.68 177.62L376.68 178.45L376.42 179L375.89 179.28L376.68 179L376.95 178.45L376.95 177.62L376.68 177.06L375.89 176.79M375.1 179.28L375.89 179.28L376.42 179.56L376.95 180.11L377.21 180.66L377.21 181.49L376.95 182.05L376.68 182.32L375.89 182.6L376.42 182.32L376.68 182.05L376.95 181.49L376.95 180.66L376.68 179.83M373.78 181.49L374.04 181.22L373.78 180.94L373.52 181.22L373.52 181.49L373.78 182.05L374.04 182.32L374.84 182.6L375.89 182.6" fill="none" stroke="#28a5fa" stroke-width="0.7" stroke-linecap="round" stroke-linejoin="round"/>
</svg>
</body></html>
